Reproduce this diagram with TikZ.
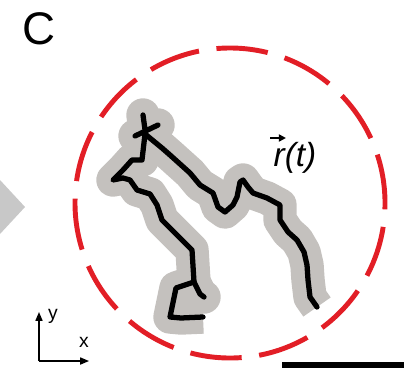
\documentclass[tikz,border=0pt]{standalone}
\usepackage{fontspec}
\setmainfont{Liberation Sans}
\usetikzlibrary{arrows.meta}
\definecolor{ringred}{RGB}{226,30,38}
\definecolor{halogray}{RGB}{196,193,190}
\definecolor{markgray}{RGB}{200,200,200}
% trajectory, in pixel units (y pointing down)
\newcommand{\trajmain}{(317,307) -- (310,297) -- (308,280) -- (307,265) -- (304,252)
  -- (297,240) -- (288,232) -- (280,220) -- (280,205) -- (267,198) -- (253,193)
  -- (248,187) -- (243,180) -- (240,182) -- (237,197) -- (233,205) -- (225,212)
  -- (218,207) -- (213,193) -- (200,185) -- (190,173) -- (170,155) -- (162,148)
  -- (145,134) -- (142,160) -- (132,160) -- (123,170) -- (113,180) -- (123,178)
  -- (130,180) -- (137,190) -- (150,194) -- (157,205) -- (162,220) -- (192,250)
  -- (194,282) -- (176,288) -- (170,317) -- (181,318) -- (203,317)}
\newcommand{\trajcross}{(194,282) -- (200,294) -- (204,297)
  (143,115) -- (146,137) (135,136) -- (158,125)}

\begin{document}
\begin{tikzpicture}[x=0.02cm, y=-0.02cm,
    halo/.style={draw=halogray, line width=19pt, line join=round},
    trace/.style={draw=black, line width=3pt, line join=round, line cap=round},
    ring/.style={draw=ringred, line width=2.8pt,
                 dash pattern=on 29.4pt off 10.04pt, dash phase=25.8pt},
    axis/.style={draw=black, line width=0.8pt, -{Triangle[length=5pt,width=4pt]}},
]
\useasboundingbox (0,0) rectangle (404,368);
% panel letter and side marker
\node[font=\fontsize{26}{26}\selectfont] (panel) at (39,29) {C};
\fill[markgray] (0,180) -- (25,207) -- (0,234) -- cycle;
% confining ring
\draw[ring] (230,203) circle [radius=155];
% trajectory with its halo
\path[halo] \trajmain;
\path[halo, line cap=round] \trajcross;
\path[trace] \trajmain;
\path[trace] \trajcross;
% label r(t)
\node[font=\fontsize{19}{19}\selectfont\itshape] (rlab) at (295,158) {r(t)};
\draw[-{Triangle[length=4pt,width=4pt]}, line width=1.1pt]
  ([shift={(1.5pt,-1pt)}]rlab.north west) -- ++(9pt,0);
% axes
\coordinate (origin) at (39,361);
\coordinate (ytip) at (39,312);
\coordinate (xtip) at (89,361);
\draw[axis] (origin) -- (ytip);
\draw[axis] (origin) -- (xtip);
\node[font=\fontsize{11}{11}\selectfont, anchor=west] (ylab) at (42,316) {y};
\node[font=\fontsize{11}{11}\selectfont] (xlab) at (84,342) {x};
% scale bar
\fill (282,362) rectangle (404,368);
\end{tikzpicture}
\end{document}
